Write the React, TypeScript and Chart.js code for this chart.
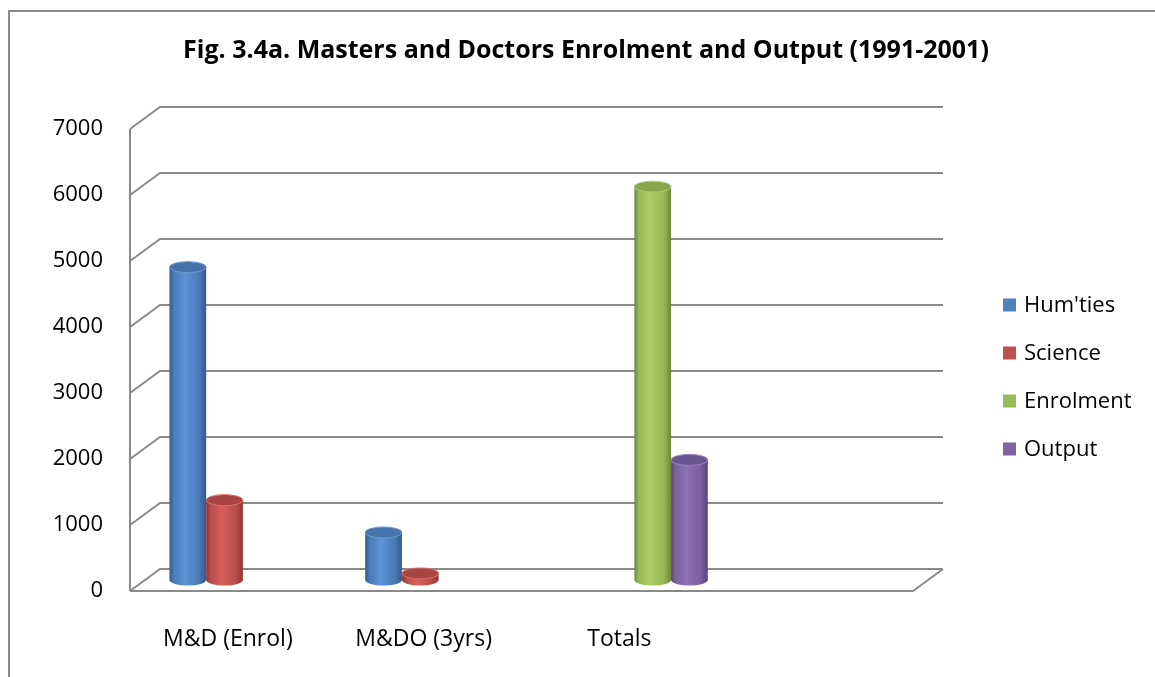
import React, { useEffect, useRef } from "react";
import { Chart, registerables } from "chart.js";

Chart.register(...registerables);

// ---- data ----
const categories = ["M&D (Enrol)", "M&DO (3yrs)", "Totals", ""];
const seriesNames = ["Hum'ties", "Science", "Enrolment", "Output"];
const humties = [4740, 720, null, null];
const science = [1210, 100, null, null];
const enrolment = [null, null, 5960, null];
const output = [null, null, 1820, null];
const yMin = 0;
const yMax = 7000;
const yStep = 1000;
const chartTitle = "Fig. 3.4a. Masters and Doctors Enrolment and Output (1991-2001)";

// ---- styles ----
const flatColors = ["#4F81BD", "#C0504D", "#9BBB59", "#8064A2"];
const shades = [
  { dark: "#34598a", light: "#5d92d6", mid: "#4a7bb8", top: "#4673aa", rim: "#6a98d0" },
  { dark: "#8e3735", light: "#d65f5b", mid: "#bb4d4a", top: "#a84442", rim: "#d7706c" },
  { dark: "#6d8838", light: "#aacd65", mid: "#98b957", top: "#88a64c", rim: "#b3d27a" },
  { dark: "#57437a", light: "#8d72b4", mid: "#7c61a0", top: "#6c5590", rim: "#9a82bd" },
];
const FONT = '"Open Sans", "DejaVu Sans", sans-serif';
const DX = 30;
const DY = -22;

function drawCylinder(ctx: CanvasRenderingContext2D, cx: number, top: number, bottom: number, w: number, c: any) {
  const rx = w / 2;
  const ry = 5.5;
  const l = cx - rx;
  const r = cx + rx;
  const g = ctx.createLinearGradient(l, 0, r, 0);
  g.addColorStop(0, c.dark);
  g.addColorStop(0.12, c.mid);
  g.addColorStop(0.42, c.light);
  g.addColorStop(0.8, c.mid);
  g.addColorStop(1, c.dark);
  ctx.beginPath();
  ctx.moveTo(l, top);
  ctx.lineTo(l, bottom);
  ctx.ellipse(cx, bottom, rx, ry, 0, Math.PI, 0, true);
  ctx.lineTo(r, top);
  ctx.closePath();
  ctx.fillStyle = g;
  ctx.fill();
  ctx.beginPath();
  ctx.ellipse(cx, top, rx, ry, 0, 0, Math.PI * 2);
  ctx.fillStyle = c.top;
  ctx.fill();
  ctx.lineWidth = 1;
  ctx.strokeStyle = c.rim;
  ctx.stroke();
}

const threeD = {
  id: "threeD",
  beforeDatasetsDraw(chart: any) {
    const { ctx, chartArea } = chart;
    const { left, right } = chartArea;
    const y = chart.scales.y;
    const y0 = y.getPixelForValue(yMin);
    const yT = y.getPixelForValue(yMax);
    ctx.save();
    ctx.strokeStyle = "#8a8a8a";
    ctx.lineWidth = 2;
    ctx.lineJoin = "miter";
    ctx.beginPath();
    ctx.moveTo(left, y0);
    ctx.lineTo(left, yT);
    y.ticks.forEach((t: any) => {
      const py = y.getPixelForValue(t.value);
      ctx.moveTo(left, py);
      ctx.lineTo(left + DX, py + DY);
      ctx.lineTo(right + DX, py + DY);
    });
    ctx.moveTo(left, y0);
    ctx.lineTo(right, y0);
    ctx.lineTo(right + DX, y0 + DY);
    ctx.stroke();
    ctx.restore();
  },
  beforeDatasetDraw() {
    return false;
  },
  afterDatasetsDraw(chart: any) {
    const { ctx } = chart;
    ctx.save();
    chart.data.datasets.forEach((ds: any, i: number) => {
      const meta = chart.getDatasetMeta(i);
      meta.data.forEach((el: any, j: number) => {
        const v = ds.data[j];
        if (v === null || v === undefined) return;
        const p = el.getProps(["x", "y", "base", "width"], true);
        drawCylinder(ctx, p.x + DX / 2, p.y + DY / 2, p.base + DY / 2, p.width, shades[i]);
      });
    });
    ctx.restore();
  },
  afterDraw(chart: any) {
    const { ctx } = chart;
    ctx.save();
    // title
    ctx.fillStyle = "#000";
    ctx.font = `bold 25px ${FONT}`;
    ctx.textAlign = "center";
    ctx.textBaseline = "middle";
    ctx.fillText(chartTitle, 586, 51);
    // legend
    ctx.font = `22px ${FONT}`;
    ctx.textAlign = "left";
    chart.data.datasets.forEach((ds: any, i: number) => {
      const cy = 305 + i * 48;
      ctx.fillStyle = ds.backgroundColor;
      ctx.fillRect(1003, cy - 6.5, 13, 13);
      ctx.fillStyle = "#000";
      ctx.fillText(ds.label, 1024, cy + 1);
    });
    ctx.restore();
  },
};

export default function App() {
  const ref = useRef<HTMLCanvasElement>(null);
  useEffect(() => {
    if (!ref.current) return;
    const values = [humties, science, enrolment, output];
    const chart = new Chart(ref.current, {
      type: "bar",
      data: {
        labels: categories,
        datasets: seriesNames.map((name, i) => ({
          label: name,
          data: values[i],
          backgroundColor: flatColors[i],
          barPercentage: 1,
          categoryPercentage: 0.75,
        })),
      },
      options: {
        animation: false,
        responsive: false,
        devicePixelRatio: 1,
        layout: { padding: { top: 129, right: 242, left: 0, bottom: 0 } },
        plugins: {
          legend: { display: false },
          title: { display: false },
          tooltip: { enabled: false },
        },
        scales: {
          x: {
            grid: { display: false, drawTicks: false },
            border: { display: false },
            ticks: { padding: 35, color: "#000", font: { family: FONT, size: 23 }, maxRotation: 0 },
            afterFit: (s: any) => {
              s.height = 86;
            },
          },
          y: {
            min: yMin,
            max: yMax,
            grid: { display: false, drawTicks: false },
            border: { display: false },
            ticks: {
              stepSize: yStep,
              padding: 27,
              color: "#000",
              font: { family: FONT, size: 22 },
              callback: (v: any) => String(v),
            },
            afterFit: (s: any) => {
              s.width = 130;
            },
          },
        },
      },
      plugins: [threeD],
    });
    return () => chart.destroy();
  }, []);
  return (
    <div style={{ position: "fixed", left: 0, top: 0, width: 1155, height: 677, overflow: "hidden", background: "#fff" }}>
      <div
        style={{
          position: "absolute",
          left: 8,
          top: 10,
          width: 1200,
          height: 720,
          border: "2px solid #8a8a8a",
          boxSizing: "border-box",
        }}
      />
      <canvas ref={ref} width={1155} height={677} style={{ position: "absolute", left: 0, top: 0, width: 1155, height: 677 }} />
    </div>
  );
}
